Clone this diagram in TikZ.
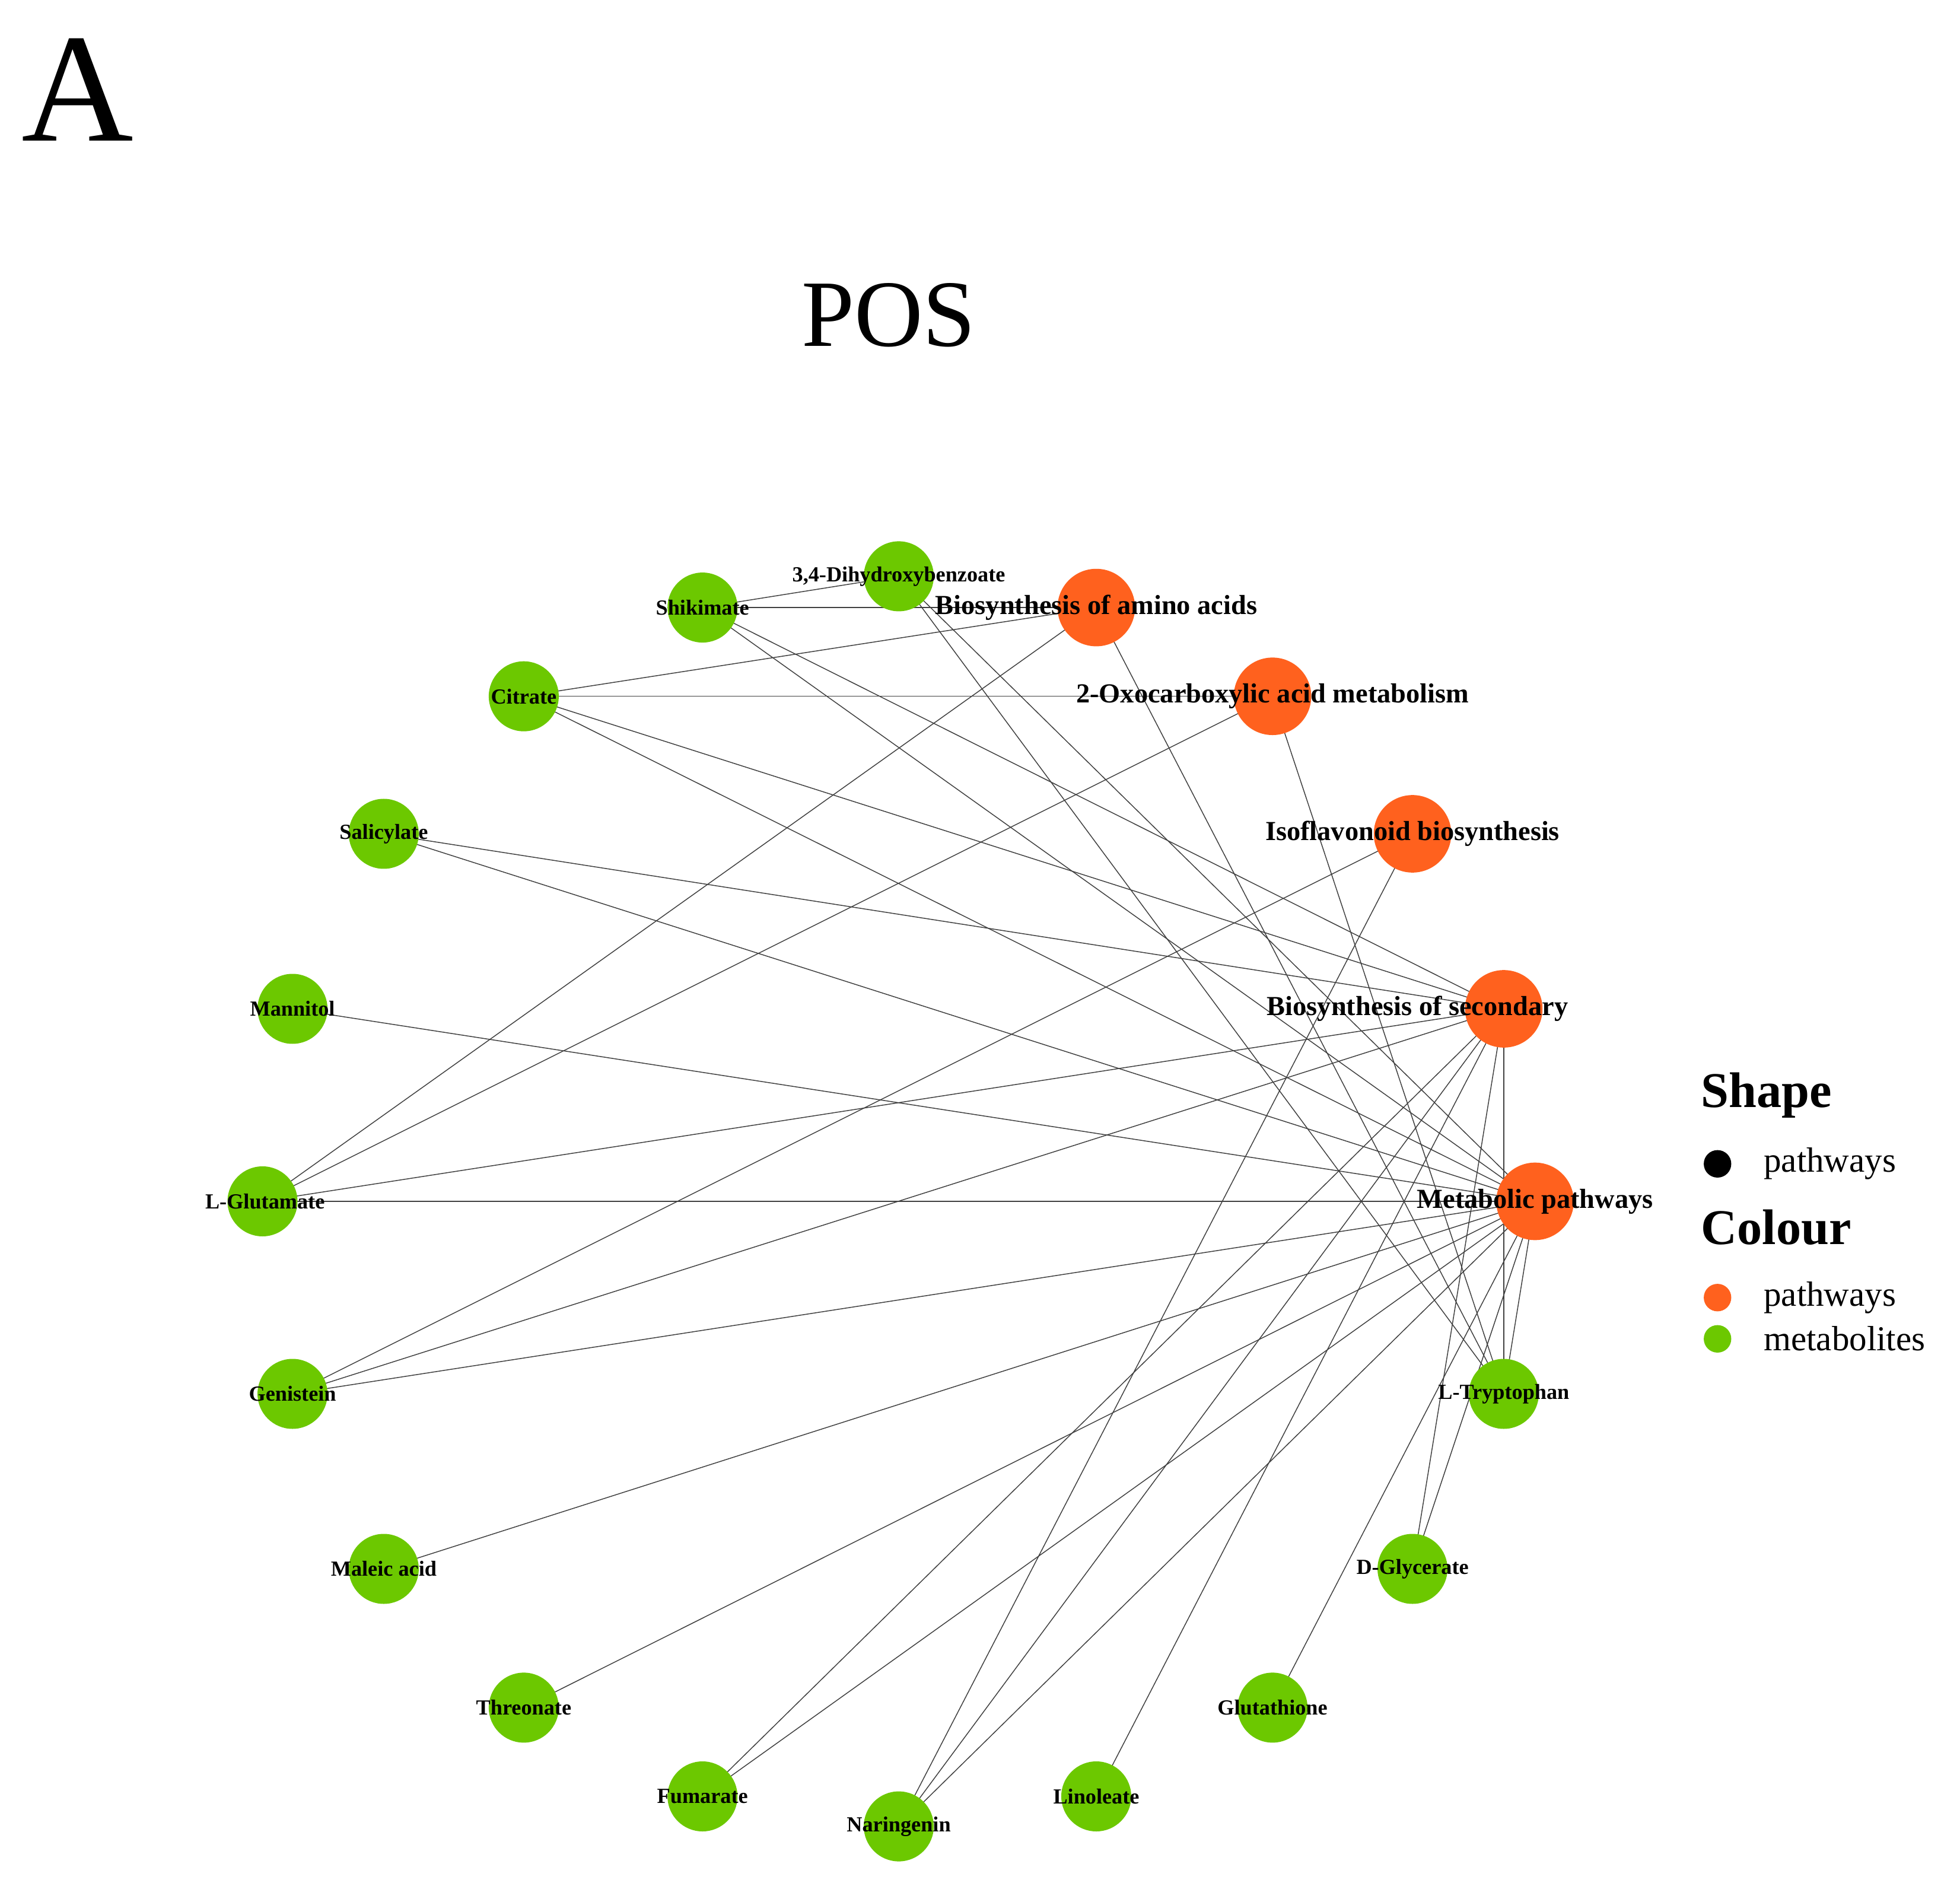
\documentclass[tikz,border=0pt]{standalone}
\usepackage{fontspec}
\setmainfont{Liberation Serif}
\begin{document}
\begin{tikzpicture}[x=0.5pt,y=-0.5pt,
  met/.style={circle,fill=green!70!black!80!lime,draw=none,minimum size=28pt,inner sep=0pt},
  pw/.style={circle,fill=orange!80!red,draw=none,minimum size=31pt,inner sep=0pt},
  lbm/.style={font=\bfseries\fontsize{8.6}{9}\selectfont},
  lbp/.style={font=\bfseries\fontsize{11}{12}\selectfont},
  edge/.style={draw=black!75,line width=0.35pt}]
\definecolor{gr}{RGB}{108,200,0}
\definecolor{or}{RGB}{255,97,30}
\tikzset{met/.append style={fill=gr},pw/.append style={fill=or}}
\useasboundingbox (0,0) rectangle (1568,1506);
\node[font=\fontsize{62}{62}\selectfont] (A) at (62,72) {A};
\node[font=\fontsize{38}{38}\selectfont] (T) at (711,252) {POS};
% coordinates
\coordinate (dhb) at (719,461);
\coordinate (shi) at (562,486);
\coordinate (baa) at (877,486);
\coordinate (cit) at (419,557);
\coordinate (oxo) at (1018,557);
\coordinate (sal) at (307,667);
\coordinate (iso) at (1130,667);
\coordinate (man) at (234,807);
\coordinate (bsec) at (1203,807);
\coordinate (glu) at (210,961);
\coordinate (met) at (1228,961);
\coordinate (gen) at (234,1115);
\coordinate (trp) at (1203,1115);
\coordinate (mal) at (307,1255);
\coordinate (gly) at (1130,1255);
\coordinate (thr) at (419,1366);
\coordinate (gsh) at (1018,1366);
\coordinate (fum) at (562,1437);
\coordinate (lin) at (877,1437);
\coordinate (nar) at (719,1461);
% edges
\foreach \a/\b in {shi/baa,shi/dhb,shi/bsec,shi/met,dhb/met,dhb/trp,cit/baa,cit/oxo,cit/bsec,cit/met,
  sal/bsec,sal/met,man/met,glu/baa,glu/oxo,glu/bsec,glu/met,gen/iso,gen/bsec,gen/met,
  mal/met,thr/met,fum/bsec,fum/met,nar/iso,nar/bsec,nar/met,lin/bsec,gsh/met,
  gly/bsec,gly/met,trp/baa,trp/oxo,trp/bsec,trp/met}
  \draw[edge] (\a) -- (\b);
% nodes
\foreach \c in {dhb,shi,cit,sal,man,glu,gen,trp,mal,gly,thr,gsh,fum,lin,nar}
  \node[met] (n\c) at (\c) {};
\foreach \c in {baa,oxo,iso,bsec,met}
  \node[pw] (n\c) at (\c) {};
% labels
\node[lbm] at (719,461) {3,4-Dihydroxybenzoate};
\node[lbm] at (562,486) {Shikimate};
\node[lbm] at (419,557) {Citrate};
\node[lbm] at (307,667) {Salicylate};
\node[lbm] at (234,807) {Mannitol};
\node[lbm] at (212,961) {L-Glutamate};
\node[lbm] at (234,1115) {Genistein};
\node[lbm] at (1203,1115) {L-Tryptophan};
\node[lbm] at (307,1255) {Maleic acid};
\node[lbm] at (1130,1255) {D-Glycerate};
\node[lbm] at (419,1366) {Threonate};
\node[lbm] at (1018,1366) {Glutathione};
\node[lbm] at (562,1437) {Fumarate};
\node[lbm] at (877,1437) {Linoleate};
\node[lbm] at (719,1461) {Naringenin};
\node[lbp] at (877,486) {Biosynthesis of amino acids};
\node[lbp] at (1018,557) {2-Oxocarboxylic acid metabolism};
\node[lbp] at (1130,667) {Isoflavonoid biosynthesis};
\node[lbp] at (1134,807) {Biosynthesis of secondary};
\node[lbp] at (1228,961) {Metabolic pathways};
% legend
\node[anchor=west,font=\bfseries\fontsize{20}{20}\selectfont] (ls) at (1354,876) {Shape};
\node[circle,fill=black,minimum size=11pt,inner sep=0pt] (d1) at (1374,931) {};
\node[anchor=west,font=\fontsize{14}{14}\selectfont] (l1) at (1404,931) {pathways};
\node[anchor=west,font=\bfseries\fontsize{20}{20}\selectfont] (lc) at (1354,982) {Colour};
\node[circle,fill=or,minimum size=11pt,inner sep=0pt] (d2) at (1374,1038) {};
\node[anchor=west,font=\fontsize{14}{14}\selectfont] (l2) at (1404,1038) {pathways};
\node[circle,fill=gr,minimum size=11pt,inner sep=0pt] (d3) at (1374,1071) {};
\node[anchor=west,font=\fontsize{14}{14}\selectfont] (l3) at (1404,1071) {metabolites};
\end{tikzpicture}
\end{document}
